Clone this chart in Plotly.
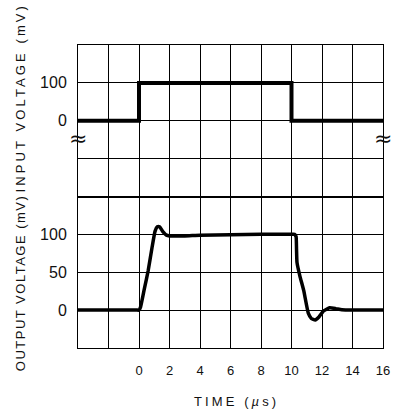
import plotly.graph_objects as go
from plotly.subplots import make_subplots

# Input pulse (mV) vs time (us)
time_in = [-4, 0, 0, 10, 10, 16]
v_in = [0, 0, 100, 100, 0, 0]

# Output response (mV) vs time (us)
time_out = [-4, -0.1, 0.0, 0.1, 0.35, 0.6, 0.85, 1.05, 1.2, 1.35, 1.55, 1.8, 2.0,
            3.0, 4.0, 6.0, 8.0, 10.0, 10.2, 10.3, 10.33, 10.36, 10.55, 10.8, 11.1,
            11.3, 11.55, 11.8, 12.1, 12.5, 12.9, 13.3, 14.0, 16.0]
v_out = [0, 0, 0, 4, 28, 52, 82, 104, 110, 110, 104, 99, 98,
         98, 99, 99.5, 100, 100, 100, 97, 80, 63, 45, 26, -4,
         -11, -13, -9, -1, 3, 2, 0.5, 0, 0]

x_ticks = [-4, -2, 0, 2, 4, 6, 8, 10, 12, 14, 16]
x_text = ["", "", "0", "2", "4", "6", "8", "10", "12", "14", "16"]
in_ticks = [-200, -100, 0, 100, 200]
in_text = ["", "", "0", "100", ""]
out_ticks = [-50, 0, 50, 100, 150]
out_text = ["", "0", "50", "100", ""]

FONT = "Liberation Sans"
INK = "#111111"


def spaced(txt, px):
    return f'<span style="letter-spacing:{px}px">{txt}</span>'


fig = make_subplots(rows=2, cols=1, shared_xaxes=True, vertical_spacing=0)

fig.add_trace(go.Scatter(x=time_in, y=v_in, mode="lines",
                         line=dict(color="black", width=4),
                         showlegend=False), row=1, col=1)
fig.add_trace(go.Scatter(x=time_out, y=v_out, mode="lines",
                         line=dict(color="black", width=3.5, shape="spline", smoothing=0.4),
                         showlegend=False), row=2, col=1)

axis_common = dict(showgrid=True, gridcolor="black", gridwidth=1,
                   showline=True, linecolor="black", linewidth=1, mirror=True,
                   zeroline=False, ticks="", fixedrange=True, automargin=False)

for r in (1, 2):
    fig.update_xaxes(range=[-4, 16], tickmode="array", tickvals=x_ticks,
                     ticktext=x_text if r == 2 else [""] * len(x_ticks),
                     showticklabels=(r == 2), ticklabelstandoff=10,
                     tickfont=dict(family=FONT, size=13, color=INK),
                     row=r, col=1, **axis_common)

fig.update_yaxes(range=[-200, 200], tickmode="array", tickvals=in_ticks, ticktext=in_text,
                 ticklabelstandoff=7, tickfont=dict(family=FONT, size=16, color=INK),
                 row=1, col=1, **axis_common)
fig.update_yaxes(range=[-50, 150], tickmode="array", tickvals=out_ticks, ticktext=out_text,
                 ticklabelstandoff=7, tickfont=dict(family=FONT, size=16, color=INK),
                 row=2, col=1, **axis_common)

# Axis titles
fig.add_annotation(text=spaced("INPUT VOLTAGE (mV)", 3.1), textangle=-90,
                   xref="paper", yref="paper", x=-0.19, y=0.824,
                   xanchor="center", yanchor="middle", showarrow=False,
                   font=dict(family=FONT, size=13, color=INK))
fig.add_annotation(text=spaced("OUTPUT VOLTAGE (mV)", 1.5), textangle=-90,
                   xref="paper", yref="paper", x=-0.19, y=0.214,
                   xanchor="center", yanchor="middle", showarrow=False,
                   font=dict(family=FONT, size=13, color=INK))
fig.add_annotation(text=spaced("TIME (<i>µ</i>s)", 3.1), xref="paper", yref="paper",
                   x=0.52, y=-0.178, xanchor="center", yanchor="middle", showarrow=False,
                   font=dict(family=FONT, size=13, color=INK))

# Axis break marks
for xd in (0, 1):
    fig.add_annotation(text="≈", xref="x domain", yref="y", x=xd, y=-48,
                       xanchor="center", yanchor="middle", showarrow=False,
                       font=dict(family="DejaVu Sans", size=22, color=INK))

fig.update_layout(width=395, height=417, margin=dict(l=78, r=12, t=45, b=69),
                  paper_bgcolor="white", plot_bgcolor="white")

fig.write_html("out.html")
